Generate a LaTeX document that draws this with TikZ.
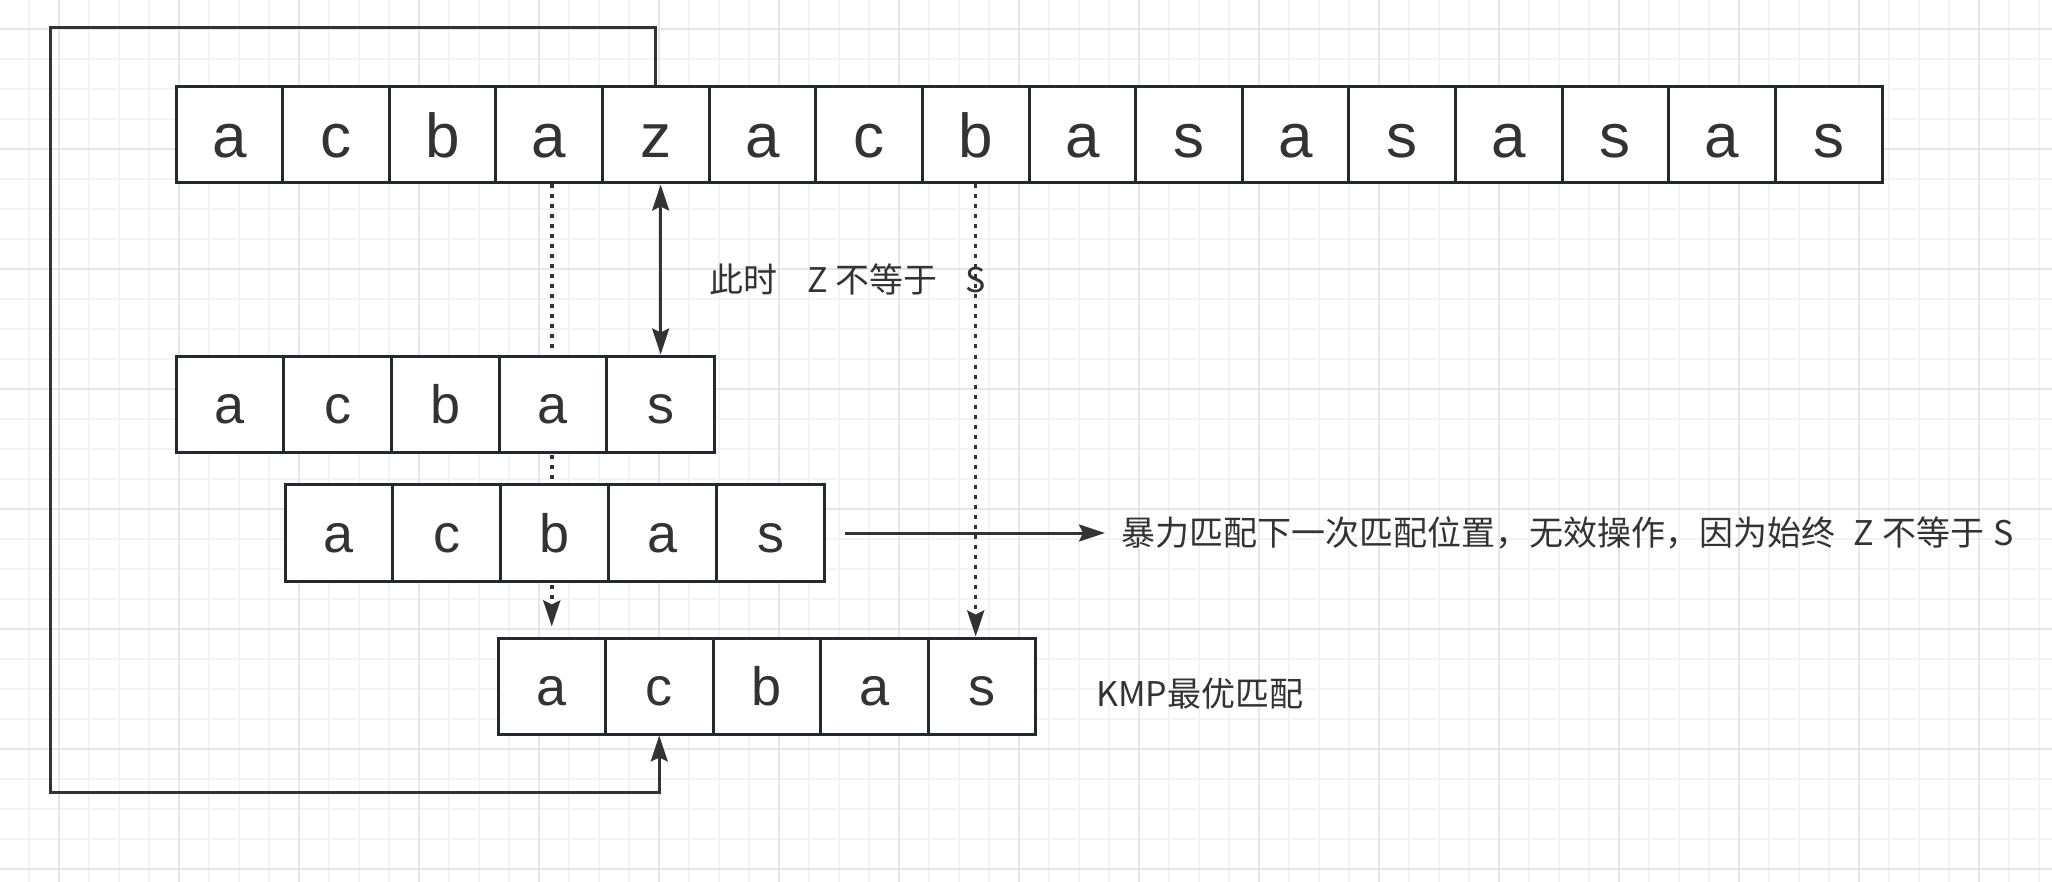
\documentclass[tikz,border=0pt]{standalone}
\usepackage{fontspec}
\setmainfont{Liberation Sans}
\newfontfamily\cjk{Noto Sans CJK SC}
\usetikzlibrary{arrows.meta,calc}
\definecolor{boxc}{HTML}{25282D}
\definecolor{linec}{HTML}{333333}
\definecolor{txtc}{HTML}{333333}
\definecolor{gridl}{HTML}{F3F3F3}
\definecolor{gridd}{HTML}{E6E6E6}
\pgfdeclarelayer{gridlayer}
\pgfdeclarelayer{bglayer}
\pgfsetlayers{gridlayer,bglayer,main}
\begin{document}
\begin{tikzpicture}[x=1pt,y=-1pt,
  bigcell/.style={draw=boxc,line width=3pt,fill=white,minimum width=106.625pt,minimum height=96pt,inner sep=0pt,text=txtc,font=\fontsize{62}{70}\selectfont,text height=45.3pt,text depth=0pt},
  smallcell/.style={bigcell,minimum width=107.7pt,font=\fontsize{54}{60}\selectfont,text height=39.4pt},
  lbl/.style={inner sep=0pt,text=txtc,font=\cjk\fontsize{34}{40}\selectfont,anchor=west},
  conn/.style={draw=linec,line width=3pt},
  dotl/.style={draw=linec,line width=3.5pt,dash pattern=on 4pt off 6pt},
  gl/.style={draw=gridl,line width=1.5pt},
  gd/.style={draw=gridd,line width=1.5pt}]
\useasboundingbox (0,0) rectangle (2052,882);
% cells
\foreach \c [count=\i from 0] in {a,c,b,a,z,a,c,b,a,s,a,s,a,s,a,s}
  \node[bigcell] (t\i) at ({176+106.625*(\i+0.5)},135) {\c};
\foreach \c [count=\i from 0] in {a,c,b,a,s}
  \node[smallcell] (p\i) at ({176+107.7*(\i+0.5)},404) {\c};
\foreach \c [count=\i from 0] in {a,c,b,a,s}
  \node[smallcell,minimum width=107.9pt,minimum height=97pt] (q\i) at ({285+107.9*(\i+0.5)},533) {\c};
\foreach \c [count=\i from 0] in {a,c,b,a,s}
  \node[smallcell,minimum width=107.5pt] (k\i) at ({498+107.5*(\i+0.5)},686) {\c};
% labels
\node[lbl] (note1) at (709,279) {此时\hspace{30pt}Z\hspace{8pt}不等于\hspace{28pt}S};
\node[lbl] (note2) at (1121,533) {暴力匹配下一次匹配位置，无效操作，因为始终\hspace{18pt}Z\hspace{9pt}不等于\hspace{9pt}S};
\node[lbl] (note3) at (1096,694) {KMP最优匹配};
% connectors
\draw[conn,{Stealth[length=26pt,width=17pt,inset=4pt]}-{Stealth[length=26pt,width=17pt,inset=4pt]}] (p4.north) -- (p4.north |- t4.south);
\draw[conn,-{Stealth[length=26pt,width=17pt,inset=4pt]},shorten <=19pt,shorten >=16pt] (q4.east) -- (note2.west);
\coordinate (lt) at (50,28);
\coordinate (lb) at (50,792);
\draw[conn,-{Stealth[length=26pt,width=17pt,inset=4pt]}] (t4.north) |- (lt) -- (lb) -| (k1.south);
\begin{pgfonlayer}{bglayer}
\coordinate (d1end) at ($(k0.north)+(0,-10)$);
\draw[dotl,-{Stealth[length=26pt,width=17pt,inset=4pt]}] (k0.north |- t3.south) -- (d1end);
\draw[dotl,-{Stealth[length=26pt,width=17pt,inset=4pt]}] (t7.south) -- (t7.south |- k4.north);
\end{pgfonlayer}
\begin{pgfonlayer}{gridlayer}
\fill[white] (0,0) rectangle (2052,882);
\foreach \k in {0,...,67} \draw[gl] ({29+30*\k},0) -- ({29+30*\k},882);
\foreach \k in {0,...,28} \draw[gl] (0,{29+30*\k}) -- (2052,{29+30*\k});
\foreach \k in {0,...,16} \draw[gd] ({59+120*\k},0) -- ({59+120*\k},882);
\foreach \k in {0,...,7} \draw[gd] (0,{29+120*\k}) -- (2052,{29+120*\k});
\end{pgfonlayer}
\end{tikzpicture}
\end{document}
